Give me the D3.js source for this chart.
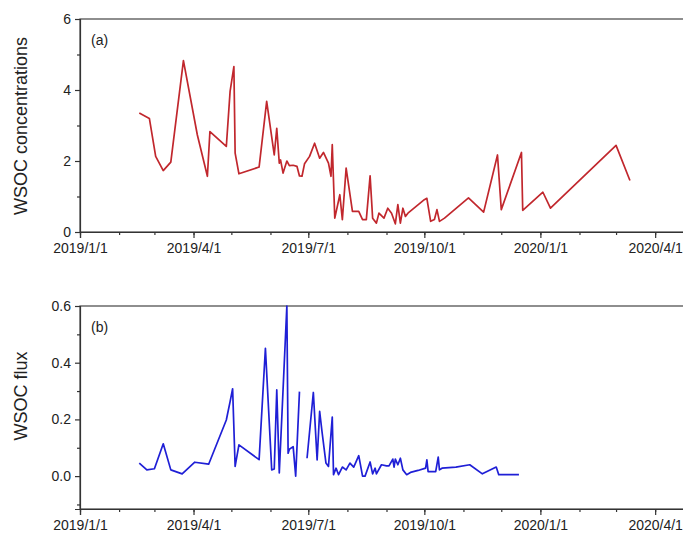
<!DOCTYPE html>
<html>
<head>
<meta charset="utf-8">
<script src="https://cdn.jsdelivr.net/npm/d3@7"></script>
<style>
  body { margin: 0; background: #fff; }
  svg { display: block; font-family: "Liberation Sans", Arial, sans-serif; }
  .axis path, .axis line { stroke: #333; stroke-width: 1.2; }
  .axis text { fill: #222; font-size: 14px; }
</style>
</head>
<body>
<svg id="chart" width="683" height="540"></svg>
<script>
// (a) WSOC concentrations
const concDates = ['2019-02-17', '2019-02-25', '2019-03-02', '2019-03-08', '2019-03-14', '2019-03-24',
  '2019-04-04', '2019-04-12', '2019-04-14', '2019-04-27', '2019-04-30', '2019-05-03', '2019-05-04',
  '2019-05-07', '2019-05-23', '2019-05-29', '2019-06-04', '2019-06-06', '2019-06-08', '2019-06-09',
  '2019-06-11', '2019-06-14', '2019-06-16', '2019-06-19', '2019-06-22', '2019-06-24', '2019-06-26',
  '2019-06-28', '2019-07-02', '2019-07-06', '2019-07-10', '2019-07-13', '2019-07-17', '2019-07-19',
  '2019-07-20', '2019-07-22', '2019-07-26', '2019-07-28', '2019-07-31', '2019-08-05', '2019-08-10',
  '2019-08-13', '2019-08-16', '2019-08-19', '2019-08-21', '2019-08-24', '2019-08-26', '2019-08-30',
  '2019-09-02', '2019-09-05', '2019-09-08', '2019-09-10', '2019-09-12', '2019-09-14', '2019-09-16',
  '2019-09-18', '2019-10-01', '2019-10-03', '2019-10-06', '2019-10-09', '2019-10-11', '2019-10-13',
  '2019-10-17', '2019-11-05', '2019-11-17', '2019-11-28', '2019-12-01', '2019-12-17', '2019-12-18',
  '2020-01-03', '2020-01-09', '2020-03-01', '2020-03-12'];
const concValues = [3.35, 3.2, 2.13, 1.73, 1.97, 4.83,
  2.74, 1.57, 2.83, 2.41, 3.96, 4.66, 2.22,
  1.64, 1.83, 3.68, 2.17, 2.92, 1.94, 2.03,
  1.66, 2.0, 1.87, 1.88, 1.85, 1.58, 1.57,
  1.92, 2.13, 2.5, 2.08, 2.24, 1.94, 1.57,
  2.46, 0.39, 1.05, 0.35, 1.8, 0.58, 0.58,
  0.35, 0.35, 1.58, 0.39, 0.25, 0.53, 0.39,
  0.67, 0.53, 0.23, 0.77, 0.25, 0.67, 0.44,
  0.53, 0.91, 0.95, 0.3, 0.35, 0.63, 0.3,
  0.39, 0.96, 0.56, 2.17, 0.63, 2.24, 0.61,
  1.12, 0.67, 2.44, 1.45];

// (b) WSOC flux, null = gap in the record
const fluxDates = ['2019-02-17', '2019-02-23', '2019-03-01', '2019-03-08', '2019-03-14', '2019-03-23',
  '2019-04-02', '2019-04-13', '2019-04-27', '2019-04-30', '2019-05-02', '2019-05-04', '2019-05-07',
  '2019-05-23', '2019-05-28', '2019-06-02', '2019-06-04', '2019-06-06', '2019-06-08', '2019-06-14',
  '2019-06-15', '2019-06-16', '2019-06-19', '2019-06-21', '2019-06-24', '2019-06-27', '2019-06-30',
  '2019-07-05', '2019-07-08', '2019-07-10', '2019-07-12', '2019-07-15', '2019-07-17', '2019-07-20',
  '2019-07-21', '2019-07-23', '2019-07-25', '2019-07-28', '2019-07-31', '2019-08-03', '2019-08-06',
  '2019-08-10', '2019-08-13', '2019-08-15', '2019-08-19', '2019-08-21', '2019-08-23', '2019-08-24',
  '2019-08-28', '2019-09-01', '2019-09-03', '2019-09-06', '2019-09-07', '2019-09-08', '2019-09-10',
  '2019-09-12', '2019-09-14', '2019-09-17', '2019-09-20', '2019-09-26', '2019-10-02', '2019-10-03',
  '2019-10-04', '2019-10-10', '2019-10-12', '2019-10-13', '2019-10-15', '2019-10-26', '2019-11-06',
  '2019-11-16', '2019-11-27', '2019-11-29', '2019-12-07', '2019-12-15'];
const fluxValues = [0.046, 0.022, 0.026, 0.114, 0.022, 0.008,
  0.049, 0.042, 0.198, 0.263, 0.308, 0.034, 0.11,
  0.058, 0.451, 0.022, 0.025, 0.304, 0.011, 0.60,
  0.081, 0.095, 0.104, 0.0, 0.298, null, 0.063,
  0.295, 0.057, 0.228, 0.152, 0.046, 0.034, 0.208,
  0.005, 0.028, 0.005, 0.032, 0.022, 0.046, 0.032,
  0.072, 0.0, 0.0, 0.05, 0.008, 0.028, 0.008,
  0.04, 0.036, 0.036, 0.06, 0.032, 0.06, 0.04,
  0.063, 0.022, 0.005, 0.013, 0.02, 0.028, 0.057,
  0.016, 0.016, 0.067, 0.022, 0.028, 0.032, 0.04,
  0.008, 0.032, 0.005, 0.005, 0.005];

const concTicks = [0, 2, 4, 6];
const concMinor = [1, 3, 5];
const fluxTicks = [0, 0.2, 0.4, 0.6];
const fluxMinor = [-0.1, 0.1, 0.3, 0.5];

const parse = d3.timeParse('%Y-%m-%d');
const svg = d3.select('#chart');

const left = 80, right = 693;
const x = d3.scaleTime()
  .domain([new Date(2019, 0, 1), new Date(2020, 4, 1)])
  .range([left, right]);

function drawPanel(opt) {
  const y = d3.scaleLinear().domain(opt.domain).range([opt.bottom, opt.top]);
  const g = svg.append('g');

  // frame
  g.append('rect')
    .attr('x', left).attr('y', opt.top)
    .attr('width', right - left).attr('height', opt.bottom - opt.top)
    .attr('fill', 'none').attr('stroke', '#444').attr('stroke-width', 1.2);

  // x axis, quarterly labels + monthly minor ticks
  g.append('g').attr('class', 'axis')
    .attr('transform', `translate(0,${opt.bottom})`)
    .call(d3.axisBottom(x).ticks(d3.timeMonth.every(1)).tickSize(3).tickFormat(''))
    .call(a => a.select('.domain').remove());
  g.append('g').attr('class', 'axis')
    .attr('transform', `translate(0,${opt.bottom})`)
    .call(d3.axisBottom(x).ticks(d3.timeMonth.every(3)).tickSize(6).tickPadding(5)
      .tickFormat(d3.timeFormat('%Y/%-m/%-d')));

  // y axis
  g.append('g').attr('class', 'axis')
    .attr('transform', `translate(${left},0)`)
    .call(d3.axisLeft(y).tickValues(opt.minor).tickSize(3).tickFormat(''))
    .call(a => a.select('.domain').remove());
  g.append('g').attr('class', 'axis')
    .attr('transform', `translate(${left},0)`)
    .call(d3.axisLeft(y).tickValues(opt.ticks).tickSize(5).tickPadding(4).tickFormat(opt.fmt));

  g.append('text')
    .attr('transform', `translate(27,${opt.titleY}) rotate(-90)`)
    .attr('text-anchor', 'middle')
    .attr('font-size', 18)
    .attr('fill', '#222')
    .text(opt.title);

  g.append('text')
    .attr('x', 91).attr('y', opt.top + 26)
    .attr('font-size', 14)
    .attr('fill', '#222')
    .text(opt.tag);

  const data = opt.dates.map((d, i) => ({ date: parse(d), value: opt.values[i] }));
  const line = d3.line()
    .defined(d => d.value !== null)
    .x(d => x(d.date))
    .y(d => y(d.value));

  g.append('path')
    .datum(data)
    .attr('fill', 'none')
    .attr('stroke', opt.color)
    .attr('stroke-width', 1.7)
    .attr('stroke-linejoin', 'round')
    .attr('d', line);
}

drawPanel({
  top: 19, bottom: 232, domain: [0, 6],
  ticks: concTicks, minor: concMinor, fmt: d3.format('d'),
  dates: concDates, values: concValues, color: '#c1272d',
  title: 'WSOC concentrations', titleY: 126, tag: '(a)'
});

drawPanel({
  top: 306, bottom: 509, domain: [-0.116, 0.6],
  ticks: fluxTicks, minor: fluxMinor, fmt: d3.format('.1f'),
  dates: fluxDates, values: fluxValues, color: '#1f1fd6',
  title: 'WSOC flux', titleY: 396, tag: '(b)'
});
</script>
</body>
</html>
